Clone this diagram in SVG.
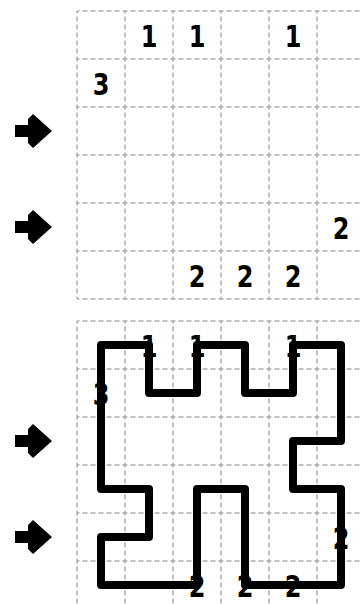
<svg xmlns="http://www.w3.org/2000/svg" width="362" height="604" viewBox="0 0 362 604">
<style>
.num{font-family:"DejaVu Sans",sans-serif;font-weight:bold;font-size:30px;fill:#000;text-anchor:middle}
.arrow{fill:#000}
.loop{fill:none;stroke:#000;stroke-width:8;stroke-linejoin:round;stroke-linecap:round}
</style>
<defs>
<polygon id="arr" points="15,-6 28,-6 28,-12 33,-17 52,0 33,17 28,12 28,6 15,6"/>
<g id="gridlines" stroke="#aaaaaa" stroke-width="1.5" stroke-dasharray="5 3" stroke-dashoffset="2.5">
<line x1="77" y1="0" x2="77" y2="288"/>
<line x1="125" y1="0" x2="125" y2="288"/>
<line x1="173" y1="0" x2="173" y2="288"/>
<line x1="221" y1="0" x2="221" y2="288"/>
<line x1="269" y1="0" x2="269" y2="288"/>
<line x1="317" y1="0" x2="317" y2="288"/>
<line x1="77" y1="0" x2="365" y2="0"/>
<line x1="77" y1="48" x2="365" y2="48"/>
<line x1="77" y1="96" x2="365" y2="96"/>
<line x1="77" y1="144" x2="365" y2="144"/>
<line x1="77" y1="192" x2="365" y2="192"/>
<line x1="77" y1="240" x2="365" y2="240"/>
<line x1="77" y1="288" x2="365" y2="288"/>
</g>
<g id="clues" font-family="DejaVu Sans, sans-serif" font-weight="bold" font-size="30" fill="#000" text-anchor="middle">
<text transform="translate(149,36.3) scale(0.8,1)">1</text>
<text transform="translate(197,36.3) scale(0.8,1)">1</text>
<text transform="translate(293,36.3) scale(0.8,1)">1</text>
<text transform="translate(101,84.3) scale(0.8,1)">3</text>
<text transform="translate(341,228.3) scale(0.8,1)">2</text>
<text transform="translate(197,276.3) scale(0.8,1)">2</text>
<text transform="translate(245,276.3) scale(0.8,1)">2</text>
<text transform="translate(293,276.3) scale(0.8,1)">2</text>
</g>
</defs>
<g id="puzzle">
<g id="puzzle-grid" transform="translate(0,11)"><use href="#gridlines"/></g>
<g id="puzzle-clues" transform="translate(0,11)"><use href="#clues"/></g>
<g id="puzzle-arrows" class="arrow">
<use href="#arr" transform="translate(0,131)"/>
<use href="#arr" transform="translate(0,227)"/>
</g>
</g>
<g id="solution">
<g id="solution-grid" transform="translate(0,321)"><use href="#gridlines"/></g>
<g id="solution-clues" transform="translate(0,321)"><use href="#clues"/></g>
<g id="solution-arrows" class="arrow">
<use href="#arr" transform="translate(0,441)"/>
<use href="#arr" transform="translate(0,537)"/>
</g>
<g id="connectors">
<path class="loop" d="M101,345 H149 V393 H197 V345 H245 V393 H293 V345 H341 V441 H293 V489 H341 V585 H245 V489 H197 V585 H101 V537 H149 V489 H101 Z"/>
</g>
</g>
</svg>
